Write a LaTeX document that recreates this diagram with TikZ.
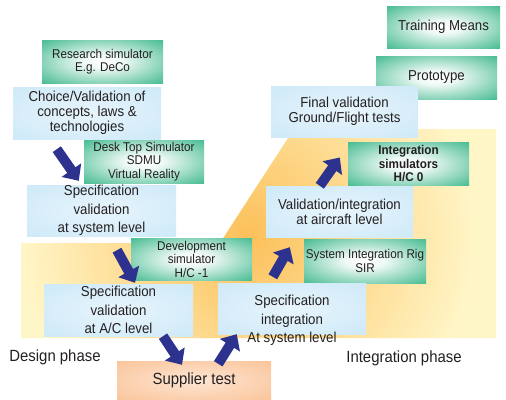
\documentclass[tikz,border=0pt]{standalone}
\usepackage{fontspec}
\setmainfont{Liberation Sans}[FakeStretch=0.92]
\usetikzlibrary{
    arrows.meta,
    calc,
    positioning
}
\definecolor{paleyellow}{RGB}{255,246,200}
\definecolor{glow}{RGB}{252,192,90}
\definecolor{simgreen}{RGB}{56,182,136}
\definecolor{taskblue}{RGB}{203,232,248}
\definecolor{supplier}{RGB}{250,192,146}
\definecolor{navy}{RGB}{44,50,142}
\definecolor{ink}{RGB}{35,31,32}
\pgfdeclareradialshading{greenglow}{\pgfpoint{0bp}{0bp}}{color(0bp)=(white); color(8bp)=(white!92!simgreen); color(38bp)=(simgreen); color(50bp)=(simgreen)}
\pgfdeclareradialshading{blueglow}{\pgfpoint{0bp}{0bp}}{color(0bp)=(white!55!taskblue); color(40bp)=(taskblue); color(50bp)=(taskblue)}
\pgfdeclareradialshading{orangeglow}{\pgfpoint{0bp}{0bp}}{color(0bp)=(white!60!supplier); color(40bp)=(supplier); color(50bp)=(supplier)}
\newcommand{\largefont}{\fontsize{14.4}{15}\selectfont}
\newcommand{\widefont}{\fontsize{14.4}{18.5}\selectfont}
\newcommand{\smallfont}{\fontsize{12.7}{13.5}\selectfont}
\newcommand{\phasefont}{\fontsize{16.2}{17}\selectfont}

\begin{document}
\begin{tikzpicture}[x=1pt, y=-1pt,
    box/.style={rectangle, inner sep=0pt, align=center, text=ink},
    sim/.style={box, shading=greenglow, font=\smallfont},
    task/.style={box, shading=blueglow, font=\largefont},
    flow/.style={draw=navy, line width=10pt, -{Triangle[width=23pt, length=13pt]}}
]
    \useasboundingbox (0, 0) rectangle (506, 399);

    % phase background
    \fill[paleyellow] (21, 243) -- (220, 243) -- (294, 129) -- (496, 129) -- (496, 338) -- (21, 338) -- cycle;
    \begin{scope}
        \clip (21, 243) -- (220, 243) -- (294, 129) -- (496, 129) -- (496, 338) -- (21, 338) -- cycle;
        \shade[inner color=glow, outer color=paleyellow] (248, 236) circle (230);
    \end{scope}
    \node[font=\phasefont, text=ink] (design) at (55, 357) {Design phase};
    \node[font=\phasefont, text=ink] (integration) at (404, 358) {Integration phase};

    % simulators
    \node[sim, font=\largefont, minimum width=113, minimum height=42] (training) at (443.5, 27) {Training Means};
    \node[sim, font=\largefont, minimum width=121, minimum height=43] (prototype) at (436.5, 77.5) {Prototype};
    \node[sim, minimum width=121, minimum height=43] (research) at (102.5, 61.5) {Research simulator\\E.g. DeCo};
    \node[sim, minimum width=120, minimum height=43] (desktop) at (144, 161.5) {Desk Top Simulator\\SDMU\\Virtual Reality};
    \node[sim, minimum width=121, minimum height=42] (devsim) at (191.5, 259) {Development\\simulator\\H/C -1};
    \node[sim, minimum width=122, minimum height=44] (sir) at (365, 261) {System Integration Rig\\SIR};
    \node[sim, font=\smallfont\bfseries, minimum width=121, minimum height=43] (intsim) at (408.5, 164) {Integration\\simulators\\H/C 0};

    % design and integration steps
    \node[task, minimum width=148, minimum height=52] (choice) at (87, 113) {Choice/Validation of\\concepts, laws \&\\technologies};
    \node[task, font=\widefont, minimum width=149, minimum height=51] (specsys) at (101.5, 210.5) {Specification\\validation\\at system level};
    \node[task, font=\widefont, minimum width=149, minimum height=52] (specac) at (118.5, 310) {Specification\\validation\\at A/C level};
    \node[box, shading=orangeglow, font=\phasefont, minimum width=154, minimum height=39] (supplier) at (194, 380.5) {Supplier test};
    \node[task, minimum width=148, minimum height=51] (specint) at (292, 308.5) {};
    \node[box, font=\widefont] (specinttext) at (292, 320.5) {Specification\\integration\\At system level};
    \node[task, minimum width=147, minimum height=51] (valair) at (339.5, 211.5) {Validation/integration\\at aircraft level};
    \node[task, minimum width=147, minimum height=51] (finalval) at (344.5, 111.5) {Final validation\\Ground/Flight tests};

    % flow arrows
    \draw[flow] ($(choice.south west)+(44, 10)$) -- ($(specsys.north west)+(52, -4)$);
    \draw[flow] ($(specsys.south)+(15.5, 14)$) -- ($(specac.north)+(16.5, -1)$);
    \draw[flow] ($(specac.south)+(44.5, 0)$) -- ($(supplier.north)+(-12, 4)$);
    \draw[flow] ($(supplier.north east)+(-53, 3)$) -- ($(specint.south west)+(19, 0)$);
    \draw[flow] ($(specint.north west)+(55, -6)$) -- ($(valair.south west)+(24, 10)$);
    \draw[flow] ($(valair.north west)+(54, 0)$) -- ($(intsim.west)+(-8, -6.5)$);
\end{tikzpicture}
\end{document}
